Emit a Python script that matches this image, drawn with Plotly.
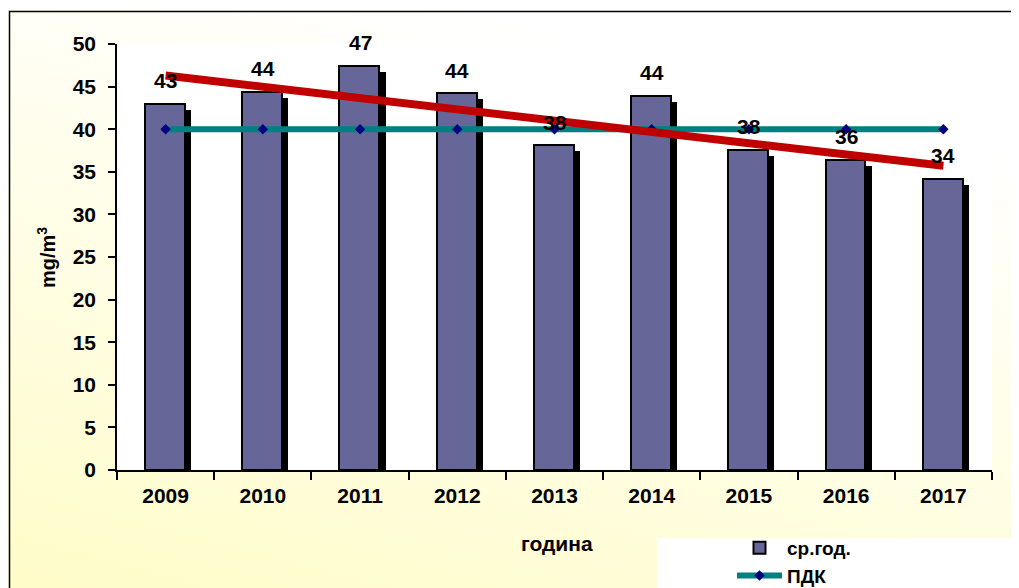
import base64
import plotly.graph_objects as go

# ---- data ----
years = ["2009", "2010", "2011", "2012", "2013", "2014", "2015", "2016", "2017"]
avg_values = [43.0, 44.4, 47.45, 44.2, 38.1, 43.9, 37.6, 36.4, 34.2]
avg_labels = ["43", "44", "47", "44", "38", "44", "38", "36", "34"]
pdk_values = [40, 40, 40, 40, 40, 40, 40, 40, 40]
trend_years = ["2009", "2017"]
trend_values = [46.3, 35.7]
y_ticks = [0, 5, 10, 15, 20, 25, 30, 35, 40, 45, 50]

FONT = "Liberation Sans, Arial, sans-serif"
W, H = 1019, 588
OFF = 8  # page body margin
# target plot-area edges in screenshot pixels
SX0, SX1, SY0, SY1 = 117, 992, 44, 470
L, T = SX0 - OFF, SY0 - OFF
R, B = W - (SX1 - OFF), H - (SY1 - OFF)
PW, PH = SX1 - SX0, SY1 - SY0


def px_x(p):
    return (p - SX0) / PW


def px_y(p):
    return (SY1 - p) / PH


svg = f'''<svg xmlns="http://www.w3.org/2000/svg" width="{W}" height="{H}" viewBox="0 0 {W} {H}" preserveAspectRatio="none">
<defs><linearGradient id="g" x1="0" y1="1" x2="0.45" y2="0">
<stop offset="0" stop-color="#FFFCC8"/><stop offset="1" stop-color="#FFFFFF"/></linearGradient></defs>
<rect width="{W}" height="{H}" fill="url(#g)"/></svg>'''
bg_src = "data:image/svg+xml;base64," + base64.b64encode(svg.encode()).decode()

fig = go.Figure()

# shadow of the bars
fig.add_trace(go.Bar(
    x=years, y=avg_values, base=-0.7, width=0.41, offset=-0.148,
    marker=dict(color="black", line=dict(width=0)),
    showlegend=False, hoverinfo="skip",
))
# bars
fig.add_trace(go.Bar(
    x=years, y=avg_values, width=0.41, offset=-0.212, name="<b>ср.год.</b>",
    marker=dict(color="#666699", line=dict(color="black", width=2)),
))
# ПДК line
fig.add_trace(go.Scatter(
    x=years, y=pdk_values, mode="lines+markers", name="<b>ПДК</b>",
    line=dict(color="#008080", width=6),
    marker=dict(symbol="diamond", size=8, color="#000080"),
))
# trend line
fig.add_trace(go.Scatter(
    x=trend_years, y=trend_values, mode="lines", showlegend=False,
    line=dict(color="#C00000", width=8),
))

annotations = []
for i, (lab, v) in enumerate(zip(avg_labels, avg_values)):
    annotations.append(dict(
        x=i, y=v, xref="x", yref="y", text=f"<b>{lab}</b>", showarrow=False,
        xanchor="center", yanchor="middle",
        yshift=23, font=dict(family=FONT, size=21, color="black"),
    ))
annotations.append(dict(
    x=px_x(557), y=px_y(543), xref="paper", yref="paper", text="<b>година</b>",
    showarrow=False, xanchor="center", yanchor="middle",
    font=dict(family=FONT, size=21, color="black"),
))
annotations.append(dict(
    x=px_x(47), y=px_y(258), xref="paper", yref="paper", text="<b>mg/m<sup>3</sup></b>",
    showarrow=False, textangle=-90, xanchor="center", yanchor="middle",
    font=dict(family=FONT, size=20, color="black"),
))

shapes = [
    # white plot area
    dict(type="rect", xref="paper", yref="paper", x0=0, x1=1, y0=0, y1=1,
         fillcolor="white", line=dict(width=0), layer="below"),
    # white legend box
    dict(type="rect", xref="paper", yref="paper", x0=px_x(657), x1=px_x(1040),
         y0=px_y(610), y1=px_y(538), fillcolor="white", line=dict(width=0), layer="below"),
    # outer frame
    dict(type="rect", xref="paper", yref="paper", x0=px_x(9.5), x1=px_x(1100),
         y0=px_y(700), y1=px_y(11.5), fillcolor="rgba(0,0,0,0)",
         line=dict(color="black", width=1.5), layer="above"),
]

fig.update_layout(
    width=W, height=H, autosize=False,
    margin=dict(l=L, r=R, t=T, b=B, autoexpand=False),
    paper_bgcolor="white", plot_bgcolor="white",
    barmode="overlay", bargap=0,
    font=dict(family=FONT, size=20, color="black"),
    images=[dict(source=bg_src, xref="paper", yref="paper", x=px_x(OFF), y=px_y(OFF),
                 sizex=W / PW, sizey=H / PH, sizing="stretch",
                 xanchor="left", yanchor="top", layer="below")],
    shapes=shapes,
    annotations=annotations,
    legend=dict(x=px_x(732), y=px_y(529), xanchor="left", yanchor="top",
                bgcolor="rgba(0,0,0,0)", itemwidth=45,
                font=dict(family=FONT, size=19, color="black"),
                tracegroupgap=0),
    xaxis=dict(
        type="category", range=[-0.5, 8.5], showline=True, linecolor="black", linewidth=1.5,
        ticks="outside", tickson="boundaries", ticklen=8, tickcolor="black", tickwidth=1.5,
        showgrid=False, zeroline=False, tickfont=dict(family=FONT, size=21, color="black"),
        tickvals=years, ticktext=[f"<b>{y}</b>" for y in years],
        ticklabelstandoff=6,
    ),
    yaxis=dict(
        range=[0, 50], tickvals=y_ticks, ticktext=[f"<b>{t}</b>" for t in y_ticks],
        showline=True, linecolor="black", linewidth=1.5,
        ticks="outside", ticklen=7, tickcolor="black", tickwidth=1.5,
        showgrid=False, zeroline=False, tickfont=dict(family=FONT, size=21, color="black"),
        ticklabelstandoff=8,
    ),
)

fig.write_html("out.html")
